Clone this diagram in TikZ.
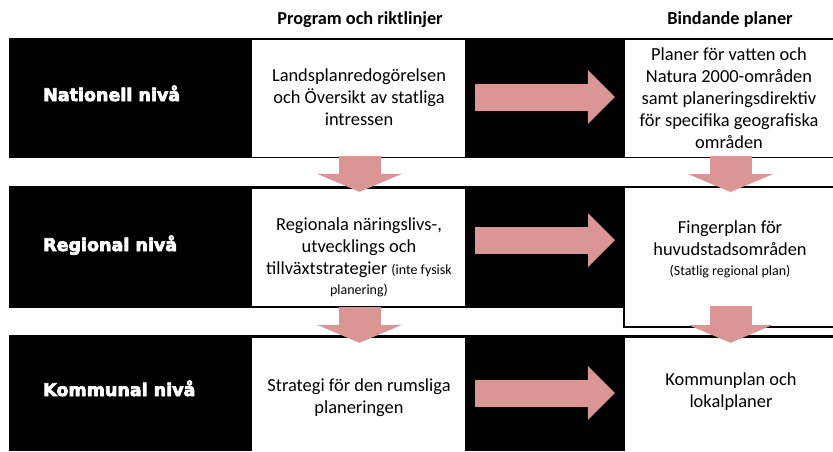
\documentclass[tikz,border=0pt]{standalone}
\usepackage{fontspec}
\setmainfont{Carlito}
\newfontfamily\lvlfont{DejaVu Sans}[BoldFeatures={FakeBold=4}]
\usepackage{xcolor}
\usetikzlibrary{arrows.meta,calc}
\definecolor{arrpink}{RGB}{217,150,148}
\newcommand\smalltxt{\fontsize{14}{16}\selectfont}

\begin{document}
\begin{tikzpicture}[x=1pt, y=-1pt,
  band/.style={fill=black, inner sep=0pt},
  pbox/.style={fill=white, inner sep=0pt, minimum width=213pt},
  bbox/.style={fill=white, inner sep=0pt, minimum width=208pt},
  txt/.style={align=center, inner sep=0pt, font=\fontsize{18.4}{22}\selectfont},
  lvl/.style={anchor=base west, inner sep=0pt, text=white, font=\lvlfont\bfseries\fontsize{17.5}{20}\selectfont},
  head/.style={inner sep=0pt, font=\bfseries\fontsize{18.3}{22}\selectfont},
  harr/.style={arrpink, line width=27pt, -{Triangle[width=54pt, length=27pt, line width=0pt]}, shorten <=10pt, shorten >=10pt},
  varr/.style={arrpink, line width=42pt, -{Triangle[width=85pt, length=18pt, line width=0pt]}}
]
\useasboundingbox (0,0) rectangle (833,451);
\node[band, minimum width=824pt, minimum height=120pt] (natband) at (421,98) {};
\node[band, minimum width=614pt, minimum height=122pt] (regband) at (316,247) {};
\node[band, minimum width=824pt, minimum height=116pt] (komband) at (421,393) {};
\node[pbox, minimum height=117pt] (prog1) at (358.5,98.5) {};
\node[pbox, minimum height=117pt] (prog2) at (358.5,247.5) {};
\node[pbox, minimum height=113pt] (prog3) at (358.5,394.5) {};
\node[bbox, minimum height=117pt] (bind1) at (729,98.5) {};
\node[bbox, draw=black, line width=2pt, minimum width=210pt, minimum height=140pt] (bind2) at (729,257) {};
\node[bbox, minimum height=113pt] (bind3) at (729,394.5) {};
\node[head] (proghead) at (360,20) {Program och riktlinjer};
\node[head] (bindhead) at (730,20) {Bindande planer};
\node[lvl] (nat) at (43,101) {Nationell nivå};
\node[lvl] (reg) at (43,251) {Regional nivå};
\node[lvl] (kom) at (43,396) {Kommunal nivå};
\node[txt] (prog1t) at (359,97) {Landsplanredogörelsen\\och Översikt av statliga\\intressen};
\node[txt] (prog2t) at (359,257) {Regionala näringslivs-,\\utvecklings och\\tillväxtstrategier {\smalltxt (inte fysisk}\\[-2pt]{\smalltxt planering)}};
\node[txt] (prog3t) at (359,398) {Strategi för den rumsliga\\planeringen};
\node[txt] (bind1t) at (729,98) {Planer för vatten och\\Natura 2000-områden\\samt planeringsdirektiv\\för specifika geografiska\\områden};
\node[txt] (bind2t) at (730,249) {Fingerplan för\\huvudstadsområden\\[-2pt]{\smalltxt (Statlig regional plan)}};
\node[txt] (bind3t) at (731,392) {Kommunplan och\\lokalplaner};
\draw[harr] ([yshift=1.5pt]prog1.east) -- ([yshift=1.5pt]bind1.west);
\draw[harr, shorten >=8pt] ([yshift=7.5pt]prog2.east) -- ([yshift=7.5pt]prog2.east -| bind2.west);
\draw[harr] ([yshift=1.5pt]prog3.east) -- ([yshift=1.5pt]bind3.west);
\draw[varr, shorten <=-1pt, shorten >=-3pt] ([xshift=1pt]prog1.south) -- ([xshift=1pt]prog2.north);
\draw[varr, shorten <=-1pt, shorten >=-6pt] ([xshift=1.5pt]bind1.south) -- ([xshift=1.5pt]bind2.north);
\draw[varr, shorten <=1pt, shorten >=-5pt] ([xshift=1pt]prog2.south) -- ([xshift=1pt]prog3.north);
\draw[varr, shorten >=-5pt] ([xshift=1.5pt]bind2.south |- prog2.south) -- ([xshift=1.5pt]bind3.north);
\end{tikzpicture}
\end{document}
